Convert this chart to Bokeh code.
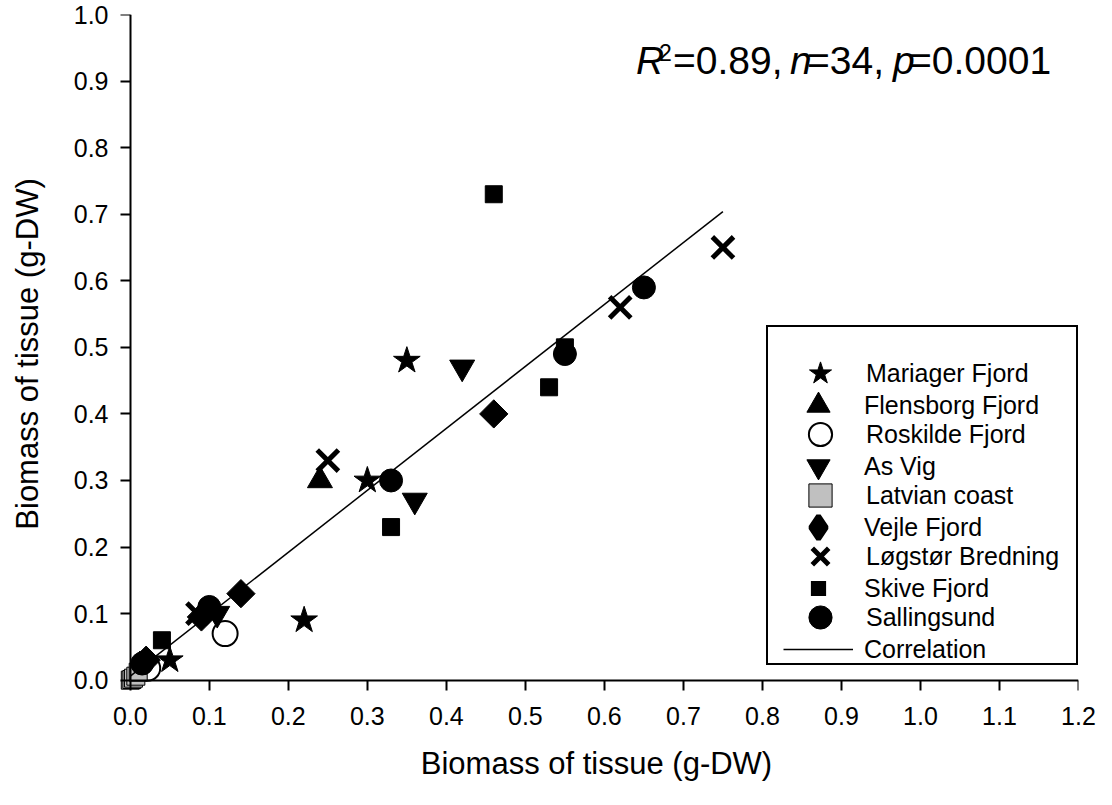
import math
from bokeh.plotting import figure
from bokeh.models import (Range1d, FixedTicker, NumeralTickFormatter, Legend, LegendItem,
                          Label, LinearAxis)
from bokeh.embed import file_html
from bokeh.resources import INLINE

FONT = "Liberation Sans"

# ---- data ----
mariager_x = [0.35, 0.30, 0.22, 0.05]
mariager_y = [0.48, 0.30, 0.09, 0.03]
flensborg_x = [0.24, 0.012]
flensborg_y = [0.30, 0.022]
roskilde_x = [0.12, 0.022]
roskilde_y = [0.07, 0.018]
asvig_x = [0.42, 0.36, 0.11]
asvig_y = [0.47, 0.27, 0.10]
latvian_x = [0.0, 0.002, 0.004, 0.007, 0.010]
latvian_y = [0.0, 0.001, 0.003, 0.006, 0.012]
vejle_x = [0.46, 0.14, 0.09, 0.02]
vejle_y = [0.40, 0.13, 0.095, 0.03]
logstor_x = [0.75, 0.62, 0.25, 0.085]
logstor_y = [0.65, 0.56, 0.33, 0.10]
skive_x = [0.46, 0.53, 0.55, 0.33, 0.04]
skive_y = [0.73, 0.44, 0.50, 0.23, 0.06]
salling_x = [0.65, 0.55, 0.33, 0.10, 0.015]
salling_y = [0.59, 0.49, 0.30, 0.11, 0.025]
corr_x = [0.0, 0.75]
corr_y = [0.006, 0.704]

x_ticks = [0.0, 0.1, 0.2, 0.3, 0.4, 0.5, 0.6, 0.7, 0.8, 0.9, 1.0, 1.1, 1.2]
y_ticks = [0.0, 0.1, 0.2, 0.3, 0.4, 0.5, 0.6, 0.7, 0.8, 0.9, 1.0]

p = figure(width=1096, height=789, output_backend="svg", toolbar_location=None,
           x_range=Range1d(-0.02, 1.2), y_range=Range1d(-0.02, 1.0),
           min_border_left=114, min_border_right=18, min_border_top=14, min_border_bottom=96,
           x_axis_label="Biomass of tissue (g-DW)", y_axis_label="Biomass of tissue (g-DW)")
p.grid.visible = False
p.outline_line_color = None
p.background_fill_color = "white"
p.border_fill_color = "white"

# axes that carry the tick labels and titles (no line, no ticks)
xlab = p.xaxis[0]
ylab = p.yaxis[0]
xlab.ticker = FixedTicker(ticks=x_ticks)
ylab.ticker = FixedTicker(ticks=y_ticks)
xlab.bounds = (0, 1.2)
ylab.bounds = (0, 1.0)
for ax in (xlab, ylab):
    ax.formatter = NumeralTickFormatter(format="0.0")
    ax.axis_line_color = None
    ax.major_tick_line_color = None
    ax.minor_tick_line_color = None
    ax.major_tick_out = 0
    ax.major_tick_in = 0
    ax.minor_tick_out = 0
    ax.minor_tick_in = 0
    ax.major_label_text_font = FONT
    ax.major_label_text_font_size = "25px"
    ax.major_label_text_color = "black"
    ax.axis_label_text_font = FONT
    ax.axis_label_text_font_style = "normal"
    ax.axis_label_text_font_size = "31px"
    ax.axis_label_text_color = "black"
xlab.major_label_standoff = 13
xlab.axis_label_standoff = 18
ylab.major_label_standoff = 6
ylab.axis_label_standoff = 26

# axes that carry the lines and ticks, crossing at the origin
def line_axis(ticks, bounds):
    return LinearAxis(fixed_location=0, bounds=bounds, ticker=FixedTicker(ticks=ticks),
                      axis_line_width=2, axis_line_color="black",
                      major_tick_line_width=2, major_tick_line_color="black",
                      major_tick_out=10, major_tick_in=0,
                      minor_tick_out=0, minor_tick_in=0, minor_tick_line_color=None,
                      major_label_text_color=None)

p.add_layout(line_axis(x_ticks, (0, 1.2)), "below")
p.add_layout(line_axis(y_ticks, (0, 1.0)), "left")

r_mar = p.scatter(mariager_x, mariager_y, marker="star", size=28, color="black")
r_fle = p.scatter(flensborg_x, flensborg_y, marker="triangle", size=25, color="black")
r_ros = p.scatter(roskilde_x, roskilde_y, marker="circle", size=25, fill_color="white",
                  line_color="black", line_width=2)
r_asv = p.scatter(asvig_x, asvig_y, marker="inverted_triangle", size=25, color="black")
r_lat = p.scatter(latvian_x, latvian_y, marker="square", size=18, fill_color="#c0c0c0",
                  line_color="black", line_width=1)
r_vej = p.scatter(vejle_x, vejle_y, marker="square", angle=math.pi / 4, size=20, color="black")
r_log = p.scatter(logstor_x, logstor_y, marker="x", size=30, line_color="black", line_width=5)
r_ski = p.scatter(skive_x, skive_y, marker="square", size=17, color="black")
r_sal = p.scatter(salling_x, salling_y, marker="circle", size=23, color="black")
r_cor = p.line(corr_x, corr_y, line_color="black", line_width=1.5)

# legend-only look-alikes (a single NaN point, never drawn in the plot) so that the
# legend symbols keep the reference shapes
leg_vej = p.scatter(x=[math.nan], y=[math.nan], marker="diamond", fill_color="black",
                    line_color="black", line_width=5)
leg_ski = p.scatter(x=[math.nan], y=[math.nan], marker="square", fill_color="black",
                    line_color="white", line_width=8)

def make_legend(items, loc, pad, framed):
    lg = Legend(items=items, location=loc)
    lg.border_line_color = "black" if framed else None
    lg.border_line_alpha = 1
    lg.border_line_width = 2
    lg.background_fill_color = "white"
    lg.background_fill_alpha = 1 if framed else 0
    lg.label_text_font = FONT
    lg.label_text_font_size = "25px"
    lg.label_text_color = "black"
    lg.glyph_width = 70
    lg.glyph_height = 58
    lg.spacing = 3
    lg.padding = pad
    lg.label_standoff = 11
    lg.margin = 0
    return lg

# two interleaved legends give 30px rows with large symbols
legend_a = make_legend([
    LegendItem(label="Mariager Fjord", renderers=[r_mar]),
    LegendItem(label="Roskilde Fjord", renderers=[r_ros]),
    LegendItem(label="Latvian coast", renderers=[r_lat]),
    LegendItem(label="Løgstør Bredning", renderers=[r_log]),
    LegendItem(label="Sallingsund", renderers=[r_sal]),
], (652, 28), 17, True)
legend_b = make_legend([
    LegendItem(label="Flensborg Fjord", renderers=[r_fle]),
    LegendItem(label="As Vig", renderers=[r_asv]),
    LegendItem(label="Vejle Fjord", renderers=[leg_vej]),
    LegendItem(label="Skive Fjord", renderers=[leg_ski]),
    LegendItem(label="Correlation", renderers=[r_cor]),
], (669, 15), 0, False)
p.add_layout(legend_a, "center")
p.add_layout(legend_b, "center")

# annotation: R^2=0.89, n=34, p=0.0001
ann_x = 0.64
ann_y = 0.931
pieces = [("R", "italic", "39px", 0, ann_y),
          ("2", "normal", "23px", 23, 0.943),
          ("=0.89,", "normal", "39px", 37, ann_y),
          ("n", "italic", "39px", 154, ann_y),
          ("=34,", "normal", "39px", 171, ann_y),
          ("p", "italic", "39px", 257, ann_y),
          ("=0.0001", "normal", "39px", 273, ann_y)]
for txt, style, fs, off, yy in pieces:
    p.add_layout(Label(x=ann_x, y=yy, x_offset=off, text=txt, text_font=FONT,
                       text_font_style=style, text_font_size=fs, text_color="black",
                       text_align="left", text_baseline="alphabetic"))

open("out.html", "w").write(file_html(p, INLINE))
